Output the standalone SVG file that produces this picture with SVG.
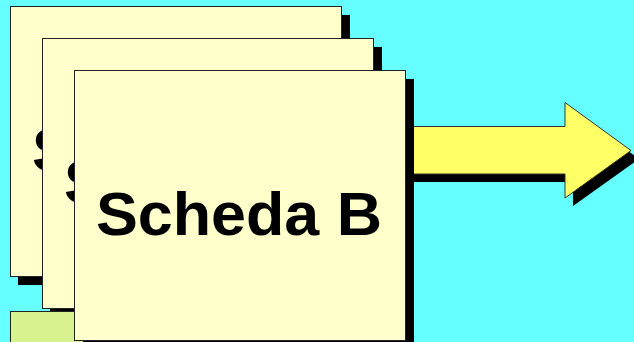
<svg xmlns="http://www.w3.org/2000/svg" width="634" height="342" viewBox="0 0 634 342">
<style>
.card{fill:#FFFFCC;stroke:#222;stroke-width:1}
.shadow{fill:#000}
.lbl{font-family:"Liberation Sans",Arial,sans-serif;font-weight:bold;font-size:62px;fill:#000}
.arrow{fill:#FFFF66;stroke:#333;stroke-width:1;stroke-linejoin:miter}
</style>
<rect width="634" height="342" fill="#66FFFF"/>
<g id="connectors">
<polygon class="shadow" points="390,135 573,135 573,111 639,159 573,206 573,182 390,182"/>
<polygon class="arrow" points="382,126.5 565,126.5 565,102.5 631,150.5 565,198 565,174 382,174"/>
</g>
<g id="card1">
<rect class="shadow" x="18" y="15" width="332" height="270"/>
<rect class="card" x="10.5" y="6.5" width="331" height="270"/>
<text class="lbl" x="32" y="171">S</text>
</g>
<g id="card2">
<rect class="shadow" x="50" y="47" width="332" height="270"/>
<rect class="card" x="42.5" y="38.5" width="331" height="270"/>
<text class="lbl" x="64" y="203">S</text>
</g>
<g id="greenbox">
<rect x="10.5" y="311.5" width="200" height="60" fill="#D9F290" stroke="#222" stroke-width="1"/>
</g>
<g id="card3">
<rect class="shadow" x="83" y="79" width="331" height="270"/>
<rect class="card" x="74.5" y="70.5" width="331" height="270"/>
<text class="lbl" x="96" y="235" textLength="286" lengthAdjust="spacingAndGlyphs">Scheda B</text>
</g>
</svg>
